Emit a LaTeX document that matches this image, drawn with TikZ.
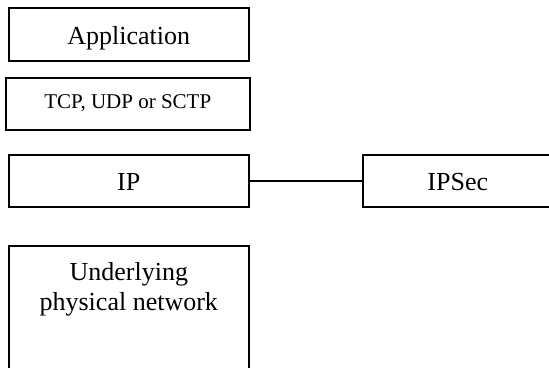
\documentclass[tikz,border=0pt]{standalone}
\usepackage{fontspec}
\setmainfont{Liberation Serif}
\begin{document}
\begin{tikzpicture}[x=1pt,y=-1pt,
  box/.style={draw, line width=1.6pt, inner sep=0pt, anchor=north west},
  big/.style={font=\fontsize{26}{30}\selectfont},
  mid/.style={font=\fontsize{21}{25}\selectfont}]
\useasboundingbox (0,0) rectangle (549,367);
\clip (0,0) rectangle (549,367);
\node[box, big, minimum width=240pt, minimum height=53pt, text height=20pt, text depth=0pt] (app) at (8,7) {Application};
\node[box, mid, minimum width=244pt, minimum height=52pt, text height=14pt, text depth=4pt] (tcp) at (5,77) {TCP, UDP or SCTP};
\node[box, big, minimum width=240pt, minimum height=52pt, text height=20pt, text depth=0pt] (ip) at (8,154) {IP};
\node[box, big, minimum width=190pt, minimum height=52pt, text height=20pt, text depth=0pt] (ipsec) at (362,154) {IPSec};
\node[box, minimum width=240pt, minimum height=160pt] (under) at (8,245) {};
\node[big, align=center, anchor=north, inner sep=0pt] (undertext) at ([yshift=-17pt]under.north) {Underlying\\physical network};
\draw[line width=1.6pt] (ip.east) -- (ipsec.west);
\end{tikzpicture}
\end{document}
